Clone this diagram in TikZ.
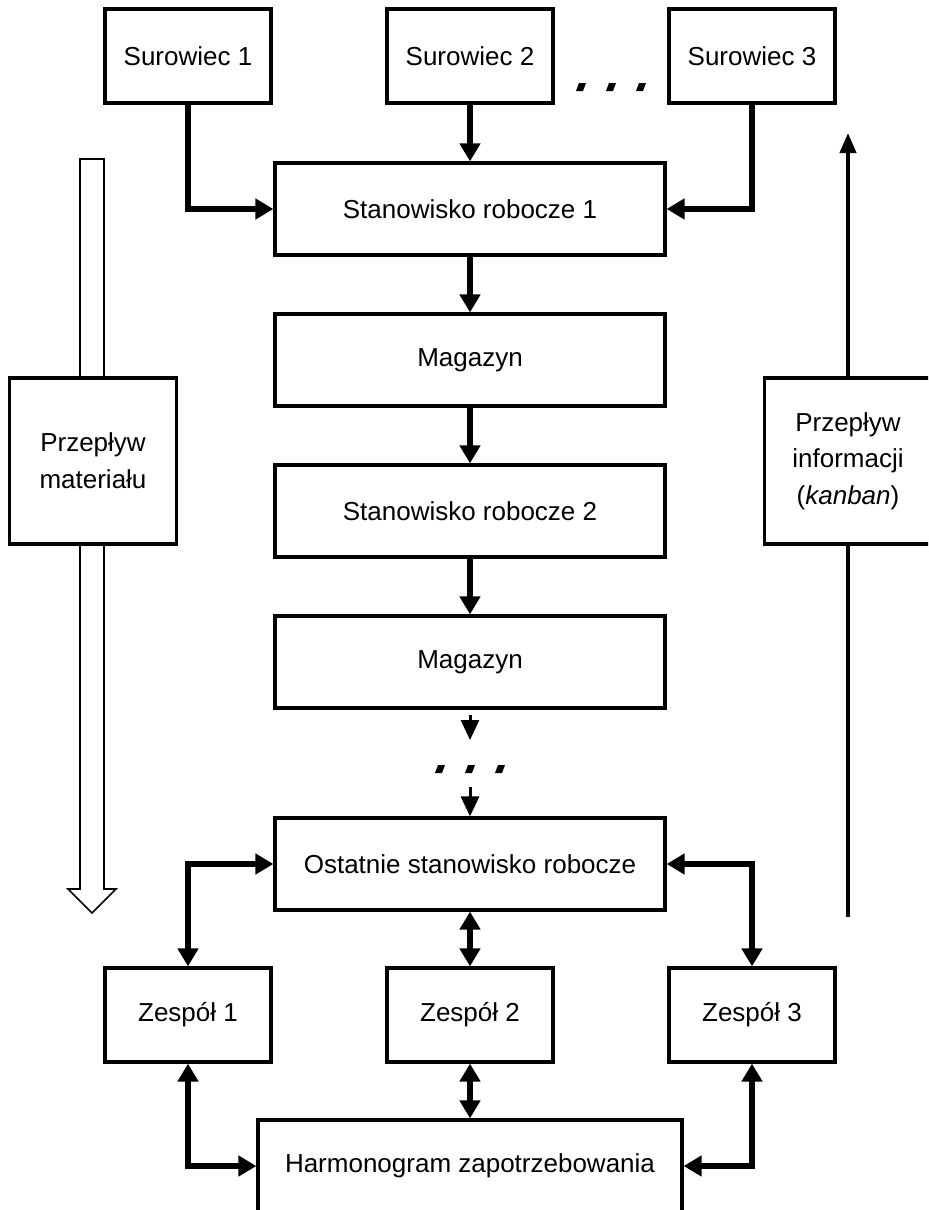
\documentclass[tikz,border=0pt]{standalone}
\usepackage{fontspec}
\setmainfont{Liberation Sans}
\usetikzlibrary{positioning,arrows.meta}

\tikzset{
  block/.style={draw, fill=white, line width=1.6pt, inner sep=2pt, align=center,
    font=\fontsize{13pt}{18.3pt}\selectfont},
  small/.style={block, minimum width=83pt, minimum height=47pt},
  wide/.style={block, minimum width=195pt, minimum height=46pt},
  side/.style={block, minimum width=83.5pt, minimum height=83pt},
  flow/.style={line width=3.2pt, -{Triangle[length=9pt,width=10pt]}},
  twoway/.style={line width=3.2pt, {Triangle[length=9pt,width=10pt]}-{Triangle[length=9pt,width=10pt]}},
  gapflow/.style={line width=1.5pt, -{Triangle[length=10pt,width=9pt]}},
  info/.style={line width=2pt, -{Triangle[length=10pt,width=8pt]}},
  hollow/.style={line width=0.8pt, fill=white}
}

\begin{document}
\begin{tikzpicture}[x=0.5pt, y=-0.5pt, node distance=75.5pt]
  \clip (0,0) rectangle (928,1210);

  % material flow and kanban line, behind the side boxes
  \draw [hollow] (80,159) -- (104,159) -- (104,889) -- (116,889) -- (92,913) -- (68,889) -- (80,889) -- cycle;
  \coordinate (kbot) at (848,917);
  \coordinate (ktop) at (848,133);
  \draw [info] (kbot) -- (ktop);

  \node (s2) [small] at (470,56) {Surowiec 2};
  \node (s1) [small, left of=s2, node distance=141pt] {Surowiec 1};
  \node (s3) [small, right of=s2, node distance=141pt] {Surowiec 3};
  \node (st1) [wide, below of=s2, node distance=76.5pt] {Stanowisko robocze 1};
  \node (mag1) [wide, below of=st1] {Magazyn};
  \node (st2) [wide, below of=mag1] {Stanowisko robocze 2};
  \node (mag2) [wide, below of=st2] {Magazyn};
  \node (ost) [wide, below of=mag2, node distance=101pt] {Ostatnie stanowisko robocze};
  \node (z2) [small, below of=ost] {Zespół 2};
  \node (z1) [small, left of=z2, node distance=141pt] {Zespół 1};
  \node (z3) [small, right of=z2, node distance=141pt] {Zespół 3};
  \node (harm) [wide, minimum width=212pt, below of=z2] {Harmonogram zapotrzebowania};
  \node (pm) [side] at (93,461) {Przepływ\\materiału};
  \node (pi) [side] at (848,461) {Przepływ\\informacji\\(\textit{kanban})};

  \draw [flow] (s1.south) |- (st1.west);
  \draw [flow] (s2) -- (st1);
  \draw [flow] (s3.south) |- (st1.east);
  \draw [flow] (st1) -- (mag1);
  \draw [flow] (mag1) -- (st2);
  \draw [flow] (st2) -- (mag2);

  % the chain goes on
  \coordinate (dtop) at (470,740);
  \coordinate (dbot) at (470,787);
  \draw [gapflow] ([yshift=-2.5pt]mag2.south) -- (dtop);
  \foreach \x in {440,470,500}
    \fill (\x-5,773) -- (\x+2,773) -- (\x+5,765) -- (\x-2,765) -- cycle;
  \draw [gapflow] (dbot) -- (ost.north);
  \foreach \x in {581,611,641}
    \fill (\x-5,91) -- (\x+2,91) -- (\x+5,83) -- (\x-2,83) -- cycle;

  \draw [twoway] (z1.north) |- (ost.west);
  \draw [twoway] (ost) -- (z2);
  \draw [twoway] (z3.north) |- (ost.east);
  \draw [twoway] (z1.south) |- (harm.west);
  \draw [twoway] (z2) -- (harm);
  \draw [twoway] (z3.south) |- (harm.east);
\end{tikzpicture}
\end{document}
